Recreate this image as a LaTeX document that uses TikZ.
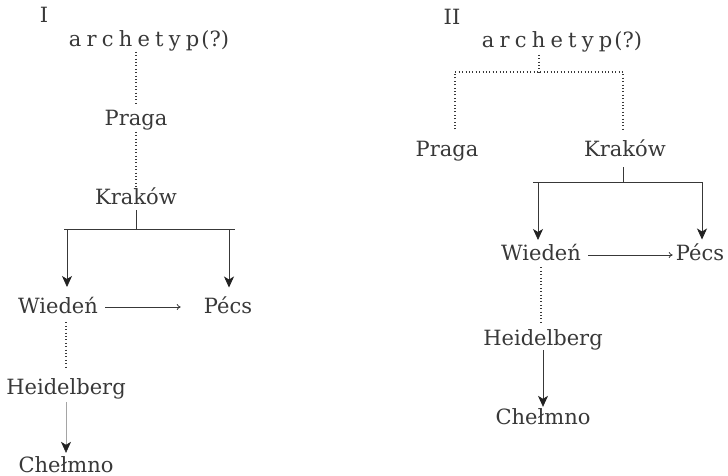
\documentclass[tikz,border=0pt]{standalone}
\usepackage{fontspec}
\setmainfont{DejaVu Serif}
\usetikzlibrary{arrows.meta}
\definecolor{ink}{HTML}{383838}
\definecolor{tipink}{HTML}{222222}
\newcommand\archword{a\kern5.2pt r\kern5.2pt c\kern5.2pt h\kern5.2pt e\kern5.2pt t\kern5.2pt y\kern5.2pt p\kern2pt(?)}
\begin{document}
\begin{tikzpicture}[x=1pt,y=-1pt,
  lbl/.style={anchor=base,inner sep=0pt,text=ink,font=\fontsize{21}{24}\selectfont},
  dotline/.style={draw=ink,line width=1.1pt,dash pattern=on 1pt off 2.4pt},
  sline/.style={draw=ink,line width=0.8pt},
  faint/.style={draw=ink!45,line width=0.6pt},
  varrow/.style={-{Stealth[length=11pt,width=10pt,inset=3pt,color=tipink]}},
  harrow/.style={sline,-{To[length=4pt,width=6pt]}}]
\useasboundingbox (0,0) rectangle (728,476);
% ---------- I ----------
\node[lbl] (n1) at (44,23) {I};
\node[lbl] (A1) at (149,47) {\archword};
\node[lbl] (P1) at (136,126) {Praga};
\node[lbl] (K1) at (136,204) {Kraków};
\node[lbl] (W1) at (58,313) {Wiedeń};
\node[lbl] (Pc1) at (228,313) {Pécs};
\node[lbl] (H1) at (66,394) {Heidelberg};
\node[lbl] (C1) at (66,472) {Chełmno};
\coordinate (b1) at (136,229);
\coordinate (b1l) at (64,229);
\coordinate (b1r) at (235,229);
\coordinate (b1w) at (67,229);
\coordinate (b1p) at (229,229);
\draw[dotline,shorten >=6pt] (P1.north |- A1.south) -- (P1.north);
\draw[dotline,shorten <=1pt] (P1.south) -- (K1.north);
\draw[sline,shorten <=6pt] (K1.south) -- (b1);
\draw[sline] (b1l) -- (b1r);
\draw[sline,varrow,shorten >=9.5pt] (b1w) -- (b1w |- W1.north);
\draw[sline,varrow,shorten >=8.5pt] (b1p) -- (b1p |- Pc1.north);
\draw[harrow,shorten <=7pt,shorten >=23pt] ([yshift=6pt]W1.base east) -- ([yshift=6pt]Pc1.base west);
\draw[dotline,shorten <=9pt,shorten >=8pt] (H1.north |- W1.south) -- (H1.north);
\draw[faint,varrow,shorten <=3pt,shorten >=3pt] (H1.south) -- (C1.north);
% ---------- II ----------
\node[lbl] (n2) at (452,25) {II};
\node[lbl] (A2) at (562,48) {\archword};
\node[lbl] (P2) at (447,157) {Praga};
\node[lbl] (K2) at (625,157) {Kraków};
\node[lbl] (W2) at (541,260) {Wiedeń};
\node[lbl] (Pc2) at (700,260) {Pécs};
\node[lbl] (H2) at (543,345) {Heidelberg};
\node[lbl] (C2) at (543,424) {Chełmno};
\coordinate (t2) at (539,72);
\coordinate (t2l) at (455,72);
\coordinate (t2r) at (623,72);
\coordinate (k2b) at (623,182);
\coordinate (b2l) at (533,182);
\coordinate (b2r) at (703,182);
\coordinate (b2w) at (538,182);
\coordinate (b2p) at (702,182);
\draw[dotline,shorten <=2pt] (A2.south -| t2) -- (t2);
\draw[dotline,shorten <=12pt,shorten >=8pt] (P2.north -| t2l) -- (t2l) -- (t2r) -- (K2.north -| t2r);
\draw[sline,shorten <=10pt] (K2.south -| k2b) -- (k2b);
\draw[sline] (b2l) -- (b2r);
\draw[sline,varrow,shorten >=3.5pt] (b2w) -- (b2w |- W2.north);
\draw[sline,varrow,shorten >=3.5pt] (b2p) -- (b2p |- Pc2.north);
\draw[harrow,shorten <=7pt,shorten >=3pt] ([yshift=5pt]W2.base east) -- ([yshift=5pt]Pc2.base west);
\draw[dotline,shorten <=7pt,shorten >=6pt] (W2.south) -- (W2.south |- H2.north);
\draw[sline,varrow,shorten >=1pt] (H2.south) -- (C2.north);
\end{tikzpicture}
\end{document}
